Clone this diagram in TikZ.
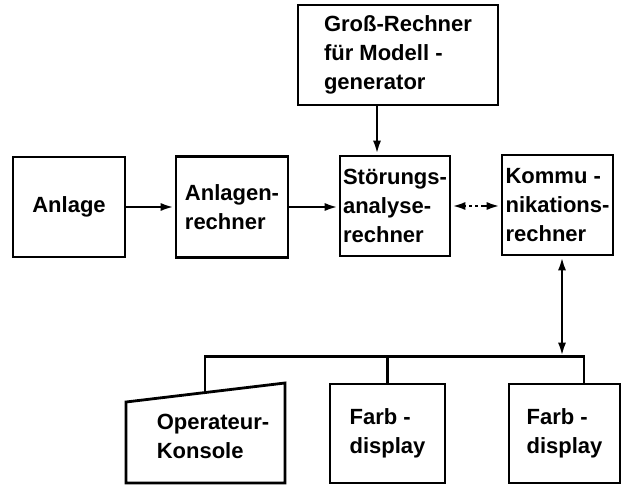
\documentclass[tikz,border=0pt]{standalone}
\usepackage{fontspec}
\setmainfont{Liberation Sans}
\usepackage{tikz}
\usetikzlibrary{arrows.meta,calc}

\begin{document}
\begin{tikzpicture}[x=1pt,y=-1pt,font=\fontsize{22}{29}\selectfont\bfseries,line width=2.8pt,
    blk/.style={draw,align=left,inner sep=0pt},
    flow/.style={-{Latex[length=14pt,width=8pt]}},
    both/.style={{Latex[length=14pt,width=8pt]}-{Latex[length=14pt,width=8pt]}}]
  \useasboundingbox (0,0) rectangle (626,486);
  \foreach \n/\x/\y/\w/\h/\t in {gross/398/55/200/100/{Groß-Rechner\\für Modell -\\generator},
                                 anlage/69/207/112/100/{Anlage},
                                 anlrech/232/207/112/101/{Anlagen-\\rechner},
                                 stoer/395/206/110/100/{Störungs-\\analyse-\\rechner},
                                 komm/557.5/205/111/100/{Kommu -\\nikations-\\rechner},
                                 farbA/387.5/433.5/115/99/{Farb -\\display},
                                 farbB/564.5/433.5/111/99/{Farb -\\display}}{
     \node[blk,minimum width=\w,minimum height=\h] (\n) at (\x,\y) {\t};}
  \draw (126,402) -- (285,383) -- (285,483) -- (126,483) -- cycle;
  \node[align=left,inner sep=0pt] (oper) at (213,436) {Operateur-\\Konsole};
  \coordinate (optop) at (205,392);
  \coordinate (fB) at ($(farbB.north)+(19.5,0)$);
  \draw[flow] (anlage.east) -- (anlage.east -| anlrech.west);
  \draw[flow] (anlrech.east) -- (anlrech.east -| stoer.west);
  \draw[flow] ($(gross.south)+(-21,0)$) -- ($(stoer.north)+(-18,0)$);
  \draw[both,dash pattern=on 2pt off 3pt on 3pt off 3pt on 3pt off 3pt on 8pt]
    (stoer.east) -- (stoer.east -| komm.west);
  \draw[both] ($(komm.south)+(4.5,0)$) -- ($(fB)+(-22,-26)$);
  \draw (optop) |- ($(fB)+(0,-26)$) -- (fB);
  \draw (farbA.north) -- ++(0,-26);
\end{tikzpicture}
\end{document}
